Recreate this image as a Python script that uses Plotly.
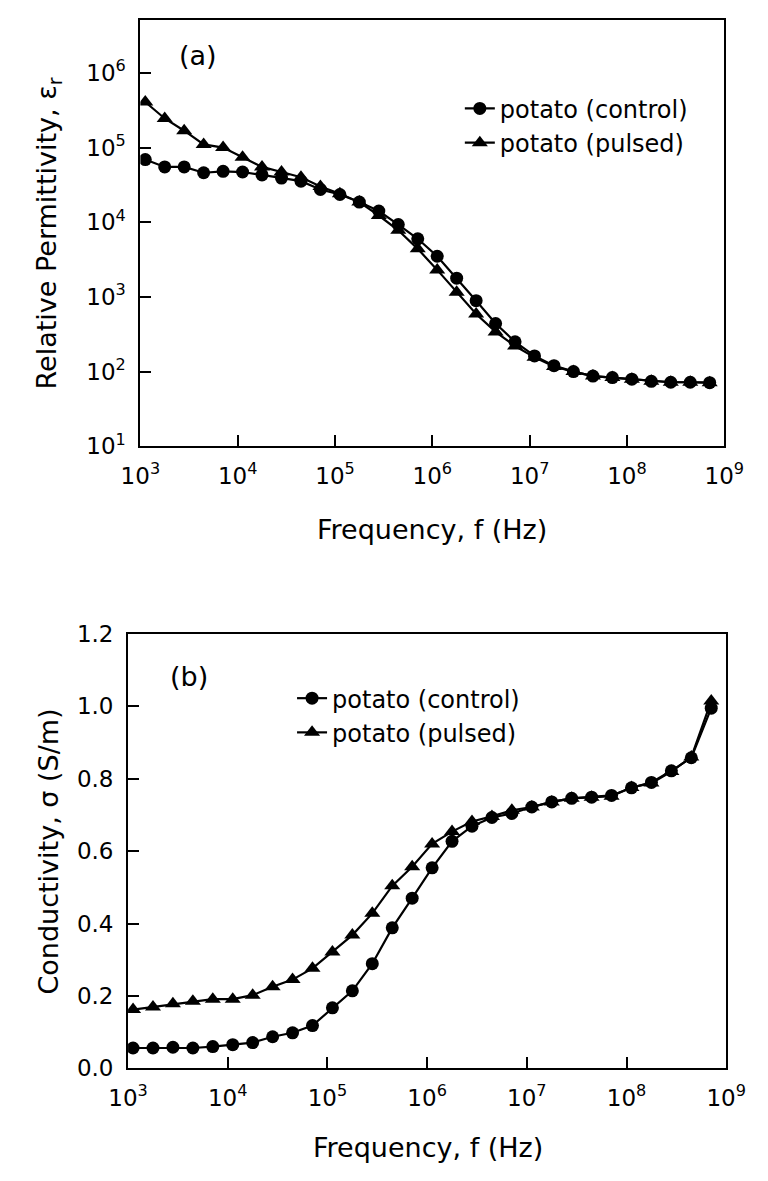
import plotly.graph_objects as go

# ---------------- data ----------------
freq_hz = [1122, 1778, 2818, 4467, 7079,
           11220, 17780, 28180, 44670, 70790,
           1.122e5, 1.778e5, 2.818e5, 4.467e5, 7.079e5,
           1.122e6, 1.778e6, 2.818e6, 4.467e6, 7.079e6,
           1.122e7, 1.778e7, 2.818e7, 4.467e7, 7.079e7,
           1.122e8, 1.778e8, 2.818e8, 4.467e8, 7.079e8]

perm_control = [69000, 55000, 55000, 46000, 48000,
                47000, 43000, 39000, 35500, 27500,
                23500, 18600, 14100, 9300, 6000,
                3500, 1780, 890, 440, 250,
                162, 120, 100, 87, 83,
                79, 74, 72, 72, 71]
perm_pulsed = [407000, 245000, 168000, 110000, 100000,
               74000, 55000, 47000, 40000, 30000,
               24000, 18600, 12300, 7800, 4400,
               2300, 1150, 590, 340, 220,
               155, 117, 100, 87, 83,
               79, 74, 72, 72, 71]

cond_control = [0.056, 0.056, 0.058, 0.056, 0.060,
                0.065, 0.071, 0.087, 0.098, 0.118,
                0.167, 0.214, 0.289, 0.388, 0.470,
                0.554, 0.627, 0.669, 0.693, 0.704,
                0.722, 0.736, 0.746, 0.749, 0.754,
                0.775, 0.790, 0.822, 0.858, 0.995]
cond_pulsed = [0.162, 0.169, 0.178, 0.185, 0.191,
               0.191, 0.202, 0.225, 0.245, 0.276,
               0.321, 0.368, 0.428, 0.504, 0.557,
               0.620, 0.654, 0.682, 0.696, 0.713,
               0.722, 0.736, 0.746, 0.749, 0.752,
               0.776, 0.788, 0.820, 0.860, 1.015]

x_tickvals = [1e3, 1e4, 1e5, 1e6, 1e7, 1e8, 1e9]
x_ticktext = ["10<sup>3</sup>", "10<sup>4</sup>", "10<sup>5</sup>", "10<sup>6</sup>",
              "10<sup>7</sup>", "10<sup>8</sup>", "10<sup>9</sup>"]
perm_tickvals = [1e1, 1e2, 1e3, 1e4, 1e5, 1e6]
perm_ticktext = ["10<sup>1</sup>", "10<sup>2</sup>", "10<sup>3</sup>", "10<sup>4</sup>",
                 "10<sup>5</sup>", "10<sup>6</sup>"]
cond_tickvals = [0.0, 0.2, 0.4, 0.6, 0.8, 1.0, 1.2]

names = ["potato (control)", "potato (pulsed)"]
x_title = "Frequency, f (Hz)"
perm_title = "Relative Permittivity, ε<sub>r</sub>"
cond_title = "Conductivity, σ (S/m)"

# ---------------- figure ----------------
W, H = 768, 1181
FONT = "DejaVu Sans, Liberation Sans, Arial, sans-serif"
TICK_SIZE = 23
TITLE_SIZE = 27
LEG_SIZE = 24

fig = go.Figure()

line_style = dict(color="black", width=2.2)
circle = dict(symbol="circle", size=13, color="black")
tri = dict(symbol="triangle-up", size=14, color="black")

fig.add_trace(go.Scatter(x=freq_hz, y=perm_control, mode="lines+markers", name=names[0],
                         line=line_style, marker=circle, xaxis="x", yaxis="y", legend="legend"))
fig.add_trace(go.Scatter(x=freq_hz, y=perm_pulsed, mode="lines+markers", name=names[1],
                         line=line_style, marker=tri, xaxis="x", yaxis="y", legend="legend"))
fig.add_trace(go.Scatter(x=freq_hz, y=cond_control, mode="lines+markers", name=names[0],
                         line=line_style, marker=circle, xaxis="x2", yaxis="y2", legend="legend2"))
fig.add_trace(go.Scatter(x=freq_hz, y=cond_pulsed, mode="lines+markers", name=names[1],
                         line=line_style, marker=tri, xaxis="x2", yaxis="y2", legend="legend2"))


def px_x(p):
    return p / W


def px_y(p):
    return 1 - p / H


axis_common = dict(showline=True, linecolor="black", linewidth=2, mirror=True,
                   ticks="inside", ticklen=11, tickwidth=2, tickcolor="black",
                   showgrid=False, zeroline=False,
                   tickfont=dict(family=FONT, size=TICK_SIZE, color="black"))


def note(text, xp, yp, angle=0):
    return dict(text=text, x=px_x(xp), y=px_y(yp), xref="paper", yref="paper",
                xanchor="center", yanchor="middle", textangle=angle, showarrow=False,
                font=dict(family=FONT, size=TITLE_SIZE, color="black"))


fig.update_layout(
    width=W, height=H,
    margin=dict(l=0, r=0, t=0, b=0),
    paper_bgcolor="white", plot_bgcolor="white",
    font=dict(family=FONT, color="black"),
    showlegend=True,
    xaxis=dict(type="log", range=[3, 9], domain=[px_x(127), px_x(743)], anchor="y",
               tickvals=x_tickvals, ticktext=x_ticktext, ticklabelstandoff=8,
               **axis_common),
    yaxis=dict(type="log", range=[1, 6.71], domain=[px_y(443), px_y(7)], anchor="x",
               tickvals=perm_tickvals, ticktext=perm_ticktext, ticklabelstandoff=8,
               **axis_common),
    xaxis2=dict(type="log", range=[3, 9], domain=[px_x(114), px_x(745)], anchor="y2",
                tickvals=x_tickvals, ticktext=x_ticktext, ticklabelstandoff=8,
                **axis_common),
    yaxis2=dict(range=[0, 1.2], domain=[px_y(1079), px_y(635)], anchor="x2",
                tickvals=cond_tickvals, tickformat=".1f", ticklabelstandoff=8,
                **axis_common),
    legend=dict(x=px_x(464), y=px_y(75), xanchor="left", yanchor="top",
                bgcolor="rgba(0,0,0,0)", borderwidth=0, tracegroupgap=0,
                font=dict(family=FONT, size=LEG_SIZE, color="black")),
    legend2=dict(x=px_x(287), y=px_y(678), xanchor="left", yanchor="top",
                 bgcolor="rgba(0,0,0,0)", borderwidth=0, tracegroupgap=0,
                 font=dict(family=FONT, size=LEG_SIZE, color="black")),
    annotations=[
        note("(a)", 188, 43),
        note("(b)", 178, 678),
        note(x_title, 435, 528),
        note(x_title, 430, 1160),
        note(perm_title, 30, 225, -90),
        note(cond_title, 30, 857, -90),
    ],
)

fig.write_html("out.html",
               config={"displayModeBar": False, "staticPlot": True},
               post_script="document.body.style.margin='0';document.body.style.overflow='hidden';")
